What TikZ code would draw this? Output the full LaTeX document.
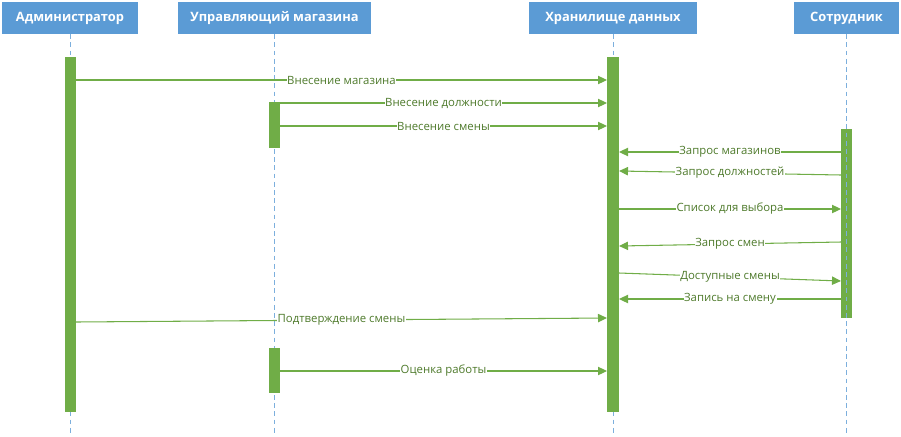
\documentclass[tikz,border=0pt]{standalone}
\usepackage{fontspec}
\setmainfont{Open Sans}
\usetikzlibrary{arrows.meta}
\definecolor{hdrblue}{HTML}{5B9BD5}
\definecolor{actgreen}{HTML}{70AD47}
\definecolor{lblgreen}{HTML}{4E7A2B}

\begin{document}
\begin{tikzpicture}[x=0.03cm, y=-0.03cm]
        \tikzstyle{every node}=[font=\fontsize{9.7}{11}\selectfont]
        \tikzstyle{header}=[fill=hdrblue, text=white, inner sep=0pt, minimum height=0.96cm, font=\fontsize{11}{13}\selectfont\bfseries]
        \tikzstyle{lifeline}=[hdrblue!80, line width=0.8pt, dash pattern=on 4pt off 3pt]
        \tikzstyle{actbar}=[fill=actgreen, inner sep=0pt, minimum width=0.34cm]
        \tikzstyle{msg}=[actgreen, line width=0.9pt, -{Triangle[length=2.7mm, width=2.5mm]}]
        \tikzstyle{lbl}=[midway, fill=white, text=lblgreen, inner sep=0.5pt]
        \useasboundingbox (0,0) rectangle (901,436);

        % lifeline heads
        \node[header, minimum width=4.08cm] (adm) at (70,18) {Администратор};
        \node[header, minimum width=5.79cm] (mgr) at (274.5,18) {Управляющий магазина};
        \node[header, minimum width=5.04cm] (stor) at (613,18) {Хранилище данных};
        \node[header, minimum width=3.15cm] (emp) at (846.5,18) {Сотрудник};

        \draw[lifeline] (adm.south) -- (adm.south |- 0,436);
        \draw[lifeline] (mgr.south) -- (mgr.south |- 0,436);
        \draw[lifeline] (stor.south) -- (stor.south |- 0,436);

        % activations
        \node[actbar, minimum height=10.65cm] (admbar) at (70.5,234.5) {};
        \node[actbar, minimum height=1.38cm] (mgrbarA) at (274.5,125) {};
        \node[actbar, minimum height=1.35cm] (mgrbarB) at (274.5,370.5) {};
        \node[actbar, minimum height=10.65cm] (storbar) at (613,234.5) {};
        \node[actbar, minimum height=5.67cm] (empbar) at (846.5,223.5) {};
        \draw[lifeline] (emp.south) -- (emp.south |- 0,436);

        % message ends
        \coordinate (a1) at (76,80);   \coordinate (s1) at (607,80);
        \coordinate (g2) at (280,103); \coordinate (s2) at (607,103);
        \coordinate (g3) at (280,126); \coordinate (s3) at (607,126);
        \coordinate (e4) at (841,152); \coordinate (s4) at (619,152);
        \coordinate (e5) at (841,175); \coordinate (s5) at (619,171);
        \coordinate (s6) at (619,209); \coordinate (e6) at (841,209);
        \coordinate (e7) at (841,242); \coordinate (s7) at (619,246);
        \coordinate (s8) at (619,273); \coordinate (e8) at (841,281);
        \coordinate (e9) at (841,299); \coordinate (s9) at (619,299);
        \coordinate (a10) at (76,322); \coordinate (s10) at (607,318);
        \coordinate (g11) at (280,371); \coordinate (s11) at (607,371);

        \draw[msg] (a1) -- (s1) node[lbl]{Внесение магазина};
        \draw[msg] (g2) -- (s2) node[lbl]{Внесение должности};
        \draw[msg] (g3) -- (s3) node[lbl]{Внесение смены};
        \draw[msg] (e4) -- (s4) node[lbl]{Запрос магазинов};
        \draw[msg] (e5) -- (s5) node[lbl]{Запрос должностей};
        \draw[msg] (s6) -- (e6) node[lbl]{Список для выбора};
        \draw[msg] (e7) -- (s7) node[lbl]{Запрос смен};
        \draw[msg] (s8) -- (e8) node[lbl]{Доступные смены};
        \draw[msg] (e9) -- (s9) node[lbl]{Запись на смену};
        \draw[msg] (a10) -- (s10) node[lbl]{Подтверждение смены};
        \draw[msg] (g11) -- (s11) node[lbl]{Оценка работы};
\end{tikzpicture}
\end{document}
